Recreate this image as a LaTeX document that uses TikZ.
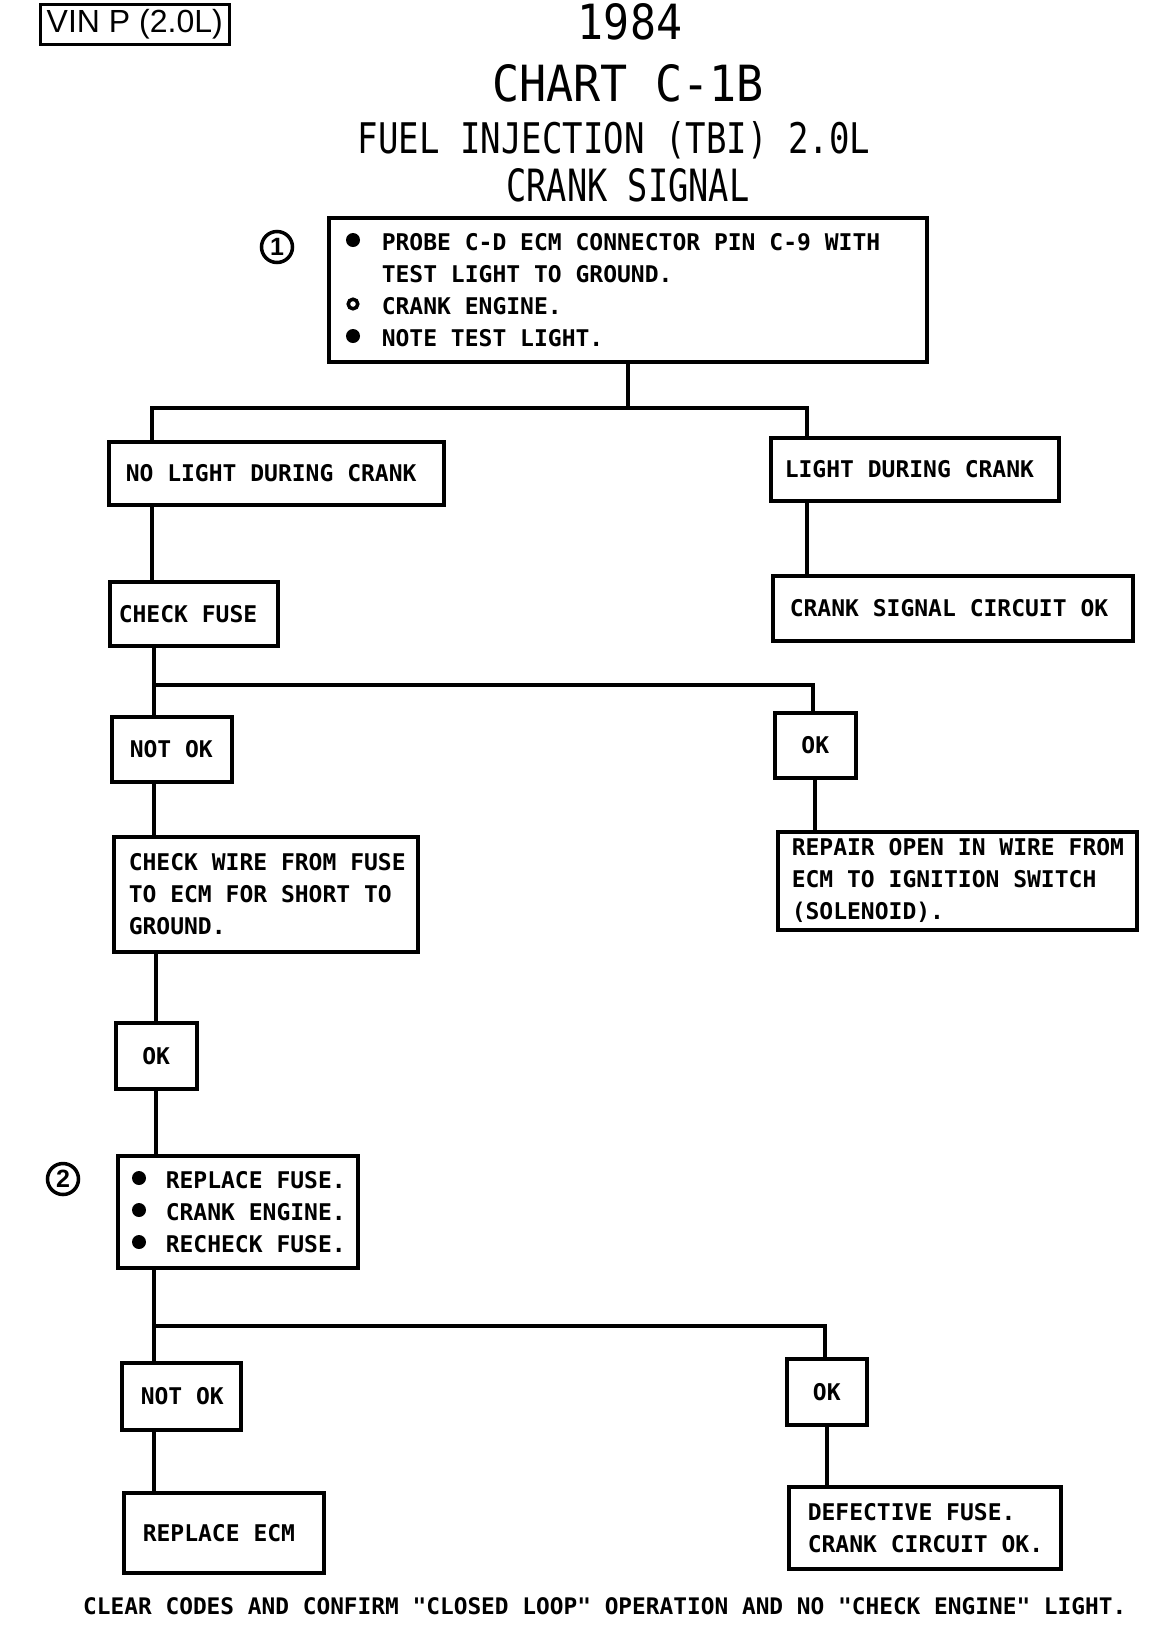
\documentclass[tikz,border=0pt]{standalone}
\usepackage{fontspec}
\usepackage{graphicx}
\newfontfamily\bodyfont{DejaVu Sans Mono}
\newfontfamily\titlefont{DejaVu Sans Mono}
\newfontfamily\vinfont{Liberation Sans}
\newcommand\indL[1]{\leftskip=#1pt\spaceskip=0pt\xspaceskip=0pt\relax}
\begin{document}
\begin{tikzpicture}[x=1pt,y=1pt,
  box/.style={draw, line width=3.5pt, rectangle, anchor=north west, inner xsep=0pt, inner ysep=0pt, align=left, font=\bodyfont\bfseries\fontsize{23}{32}\selectfont},
  okbox/.style={box, align=center},
  wire/.style={line width=4pt},
  ttl/.style={anchor=base, inner sep=0pt},
  numcirc/.style={draw, circle, line width=3.5pt, minimum size=31pt, inner sep=0pt, font=\vinfont\bfseries\fontsize{25}{25}\selectfont},
  bul/.style={fill=black}]
\useasboundingbox (0,0) rectangle (1152,-1626);
\fill[white] (0,0) rectangle (1152,-1626);

% header
\node[draw, line width=2.5pt, anchor=north west, minimum width=189pt, minimum height=40pt, inner sep=0pt, font=\vinfont\fontsize{32}{32}\selectfont] (vin) at (39,-3) {VIN P (2.0L)};
\node[ttl] (t1) at (630,-39) {\resizebox{104pt}{36pt}{\titlefont 1984}};
\node[ttl] (t2) at (628,-101) {\resizebox{271pt}{37pt}{\titlefont CHART C-1B}};
\node[ttl] (t3) at (614,-153) {\resizebox{512pt}{32pt}{\titlefont FUEL INJECTION (TBI) 2.0L}};
\node[ttl] (t4) at (628,-201) {\resizebox{243pt}{33pt}{\titlefont CRANK SIGNAL}};

% step 1
\node[numcirc] (c1) at (277,-247) {1};
\node[box, text width=598pt, minimum height=144pt] (b1) at (327,-216)
  {\indL{53}PROBE C-D ECM CONNECTOR PIN C-9 WITH\\TEST LIGHT TO GROUND.\\CRANK ENGINE.\\NOTE TEST LIGHT.\par};
\fill[bul] (353,-240) circle (7);
\draw[line width=3.5pt] (353,-304) circle (4.8);
\fill[bul] (353,-336) circle (7);

\node[box, text width=335pt, minimum height=63pt] (nl) at (107,-440) {\indL{17}NO LIGHT DURING CRANK\par};
\node[box, text width=288pt, minimum height=63pt] (lt) at (769,-436) {\indL{14}LIGHT DURING CRANK\par};
\node[box, text width=360pt, minimum height=65pt] (cs) at (771,-574) {\indL{17}CRANK SIGNAL CIRCUIT OK\par};
\node[box, text width=168pt, minimum height=64pt] (cf) at (108,-580) {\indL{9}CHECK FUSE\par};
\node[box, text width=120pt, minimum height=65pt] (no1) at (110,-715) {\indL{18}NOT OK\par};
\node[okbox, text width=81pt, minimum height=65pt] (ok1) at (773,-711) {OK};
\node[box, text width=359pt, minimum height=98pt] (rp) at (776,-830)
  {\indL{14}REPAIR OPEN IN WIRE FROM\\ECM TO IGNITION SWITCH\\(SOLENOID).\par};
\node[box, text width=304pt, minimum height=115pt] (cw) at (112,-835)
  {\indL{15}CHECK WIRE FROM FUSE\\TO ECM FOR SHORT TO\\GROUND.\par};
\node[okbox, text width=81pt, minimum height=66pt] (ok2) at (114,-1021) {OK};

% step 2
\node[numcirc] (c2) at (63,-1179) {2};
\node[box, text width=240pt, minimum height=112pt] (b2) at (116,-1154)
  {\indL{48}REPLACE FUSE.\\CRANK ENGINE.\\RECHECK FUSE.\par};
\fill[bul] (139,-1178) circle (7);
\fill[bul] (139,-1210) circle (7);
\fill[bul] (139,-1242) circle (7);

\node[box, text width=119pt, minimum height=67pt] (no2) at (120,-1361) {\indL{19}NOT OK\par};
\node[okbox, text width=80pt, minimum height=66pt] (ok3) at (785,-1357) {OK};
\node[box, text width=200pt, minimum height=80pt] (re) at (122,-1491) {\indL{19}REPLACE ECM\par};
\node[box, text width=272pt, minimum height=82pt] (df) at (787,-1485)
  {\indL{19}DEFECTIVE FUSE.\\CRANK CIRCUIT OK.\par};

\node[anchor=base west, inner sep=0pt, font=\bodyfont\bfseries\fontsize{22.8}{32}\selectfont] (foot) at (83,-1614)
  {CLEAR CODES AND CONFIRM "CLOSED LOOP" OPERATION AND NO "CHECK ENGINE" LIGHT.};

% connectors
\coordinate (j1L) at (152,-408);
\coordinate (j1R) at (807,-408);
\draw[wire] (b1.south) -- (b1.south |- j1L);
\draw[wire] (j1L |- nl.north) -- (j1L) -- (j1R) -- (j1R |- lt.north);
\draw[wire] (j1L |- nl.south) -- (j1L |- cf.north);
\draw[wire] (j1R |- lt.south) -- (j1R |- cs.north);

\coordinate (j2L) at (154,-685);
\coordinate (j2R) at (813,-685);
\draw[wire] (j2L |- cf.south) -- (j2L |- no1.north);
\draw[wire] (j2L) -- (j2R) -- (j2R |- ok1.north);
\draw[wire] (ok1.south) -- (ok1.south |- rp.north);
\draw[wire] (j2L |- no1.south) -- (j2L |- cw.north);
\draw[wire] (ok2.north) -- (ok2.north |- cw.south);
\draw[wire] (ok2.south) -- (ok2.south |- b2.north);

\coordinate (j3L) at (154,-1326);
\coordinate (j3R) at (825,-1326);
\draw[wire] (j3L |- b2.south) -- (j3L |- no2.north);
\draw[wire] (j3L) -- (j3R) -- (j3R |- ok3.north);
\draw[wire] (j3L |- no2.south) -- (j3L |- re.north);
\draw[wire] (ok3.south) -- (ok3.south |- df.north);
\end{tikzpicture}
\end{document}
